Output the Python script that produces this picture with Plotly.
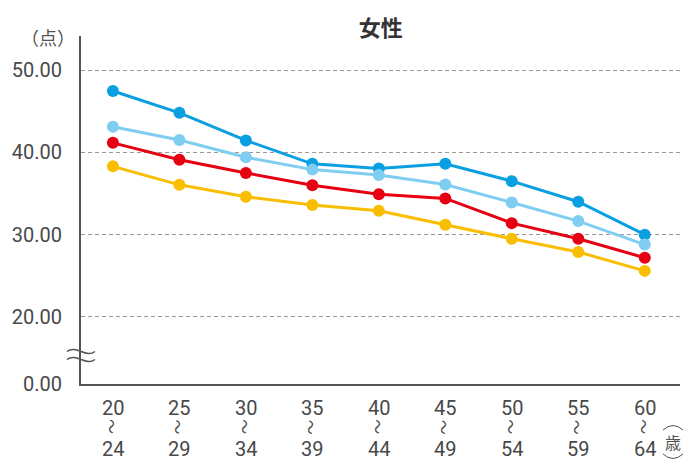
import plotly.graph_objects as go

# ---- data ----
age_start = ["20", "25", "30", "35", "40", "45", "50", "55", "60"]
age_end = ["24", "29", "34", "39", "44", "49", "54", "59", "64"]

series_dark_blue = [47.45, 44.8, 41.45, 38.6, 38.05, 38.6, 36.5, 34.0, 30.0]
series_light_blue = [43.1, 41.5, 39.4, 37.9, 37.25, 36.1, 33.9, 31.65, 28.8]
series_red = [41.15, 39.1, 37.5, 36.0, 34.9, 34.4, 31.4, 29.5, 27.2]
series_yellow = [38.3, 36.05, 34.6, 33.6, 32.9, 31.2, 29.5, 27.9, 25.6]

ytick_values = [20, 30, 40, 50]
ytick_labels = ["20.00", "30.00", "40.00", "50.00"]
zero_label = "0.00"

# broken axis: the "0.00" label sits at this display position
ZERO_POS = 11.86
Y_TOP = 54.13

colors = ["#0A9FE0", "#80CDF2", "#E60012", "#FABE00"]
series = [series_dark_blue, series_light_blue, series_red, series_yellow]

xs = list(range(len(age_start)))

fig = go.Figure()
for vals, c in zip(series, colors):
    fig.add_trace(go.Scatter(
        x=xs, y=vals, mode="lines+markers",
        line=dict(color=c, width=3),
        marker=dict(color=c, size=12),
        showlegend=False, hoverinfo="skip", cliponaxis=False,
    ))

tickfont = dict(family="Roboto, 'Noto Sans', sans-serif", size=20, color="#484848")

fig.update_layout(
    width=687, height=466,
    margin=dict(l=81, r=7, t=36, b=82),
    paper_bgcolor="white", plot_bgcolor="white",
    title=dict(text="<b>女性</b>", x=0.5544, xanchor="center", y=1 - 28 / 466, yanchor="middle",
               font=dict(family="Noto Sans CJK JP", size=22, color="#333")),
    xaxis=dict(range=[-0.48, 8.53], showticklabels=False, showgrid=False, zeroline=False,
               showline=True, linecolor="#555", linewidth=2, ticks=""),
    yaxis=dict(range=[ZERO_POS, Y_TOP], tickvals=[ZERO_POS] + ytick_values,
               ticktext=[zero_label] + ytick_labels, tickfont=tickfont,
               showgrid=True, gridcolor="#999", griddash="4px,3px", gridwidth=1,
               zeroline=False, showline=True, linecolor="#555", linewidth=2,
               ticks="", ticklabelstandoff=13),
)

annotations = []
for i, (a, b) in enumerate(zip(age_start, age_end)):
    annotations.append(dict(x=i, y=0, xref="x", yref="paper", text=a, showarrow=False,
                            yanchor="middle", yshift=-24, font=tickfont))
    annotations.append(dict(x=i, y=0, xref="x", yref="paper", text="〜", showarrow=False,
                            textangle=90, yanchor="middle", yshift=-43,
                            font=dict(family="Noto Sans CJK JP", size=15, color="#484848")))
    annotations.append(dict(x=i, y=0, xref="x", yref="paper", text=b, showarrow=False,
                            yanchor="middle", yshift=-65, font=tickfont))

annotations.append(dict(x=(47.5 - 81) / 599, y=1, xref="paper", yref="paper", text="（点）",
                        showarrow=False, xanchor="center", yanchor="middle", yshift=-1,
                        font=dict(family="Noto Sans CJK JP", size=18, color="#555")))
annotations.append(dict(x=(673 - 81) / 599, y=0, xref="paper", yref="paper", text="歳",
                        showarrow=False, xanchor="center", yanchor="middle", yshift=-58,
                        font=dict(family="Noto Sans CJK JP", size=16, color="#555")))
fig.update_layout(annotations=annotations)

# axis break marks (≈) on the y axis
break_y = 20 - (355.5 - 317) / 8.23
for off in (4, -4):
    fig.add_shape(type="path", xref="paper", yref="y", xsizemode="pixel", ysizemode="pixel",
                  xanchor=0, yanchor=break_y,
                  path=f"M -14,{off} C -5,{off + 7} 5,{off - 7} 14,{off}",
                  line=dict(color="#555", width=1.5))

# arcs around 歳
cx = (673 - 81) / 599
cy = -58 / 348
fig.add_shape(type="path", xref="paper", yref="paper", xsizemode="pixel", ysizemode="pixel",
              xanchor=cx, yanchor=cy, path="M -10,12 Q 0,21 10,12",
              line=dict(color="#555", width=1))
fig.add_shape(type="path", xref="paper", yref="paper", xsizemode="pixel", ysizemode="pixel",
              xanchor=cx, yanchor=cy, path="M -10,-12 Q 0,-21 10,-12",
              line=dict(color="#555", width=1))

fig.write_html("out.html", config={"displayModeBar": False},
               post_script="document.body.style.margin='0';")
